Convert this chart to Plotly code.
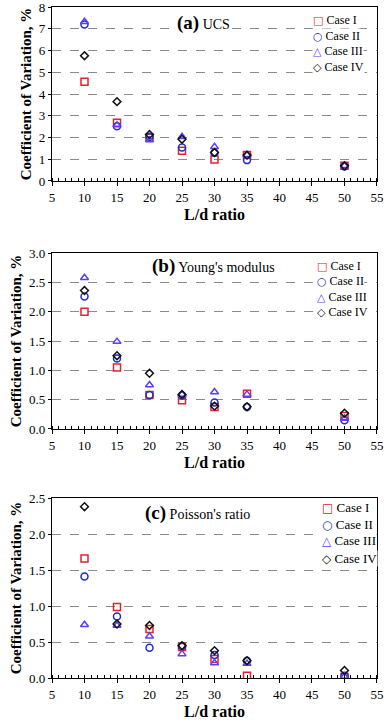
import plotly.graph_objects as go

ld = [10, 15, 20, 25, 30, 35, 50]
case_names = ["Case I", "Case II", "Case III", "Case IV"]

ucs_case1 = [4.56, 2.68, 1.99, 1.39, 0.99, 1.20, 0.70]
ucs_case2 = [7.20, 2.52, 2.03, 1.54, 1.30, 0.96, 0.67]
ucs_case3 = [7.32, 2.57, 1.88, 2.03, 1.57, 1.19, 0.70]
ucs_case4 = [5.76, 3.65, 2.14, 1.92, 1.31, 1.19, 0.70]

ym_case1 = [2.00, 1.05, 0.58, 0.49, 0.375, 0.60, 0.22]
ym_case2 = [2.26, 1.20, 0.58, 0.57, 0.45, 0.375, 0.15]
ym_case3 = [2.58, 1.49, 0.75, 0.59, 0.63, 0.59, 0.18]
ym_case4 = [2.36, 1.25, 0.95, 0.59, 0.39, 0.38, 0.27]

pr_case1 = [1.66, 0.985, 0.68, 0.43, 0.265, 0.03, 0.015]
pr_case2 = [1.41, 0.855, 0.42, 0.44, 0.32, 0.24, 0.03]
pr_case3 = [0.74, 0.73, 0.58, 0.335, 0.21, 0.20, 0.02]
pr_case4 = [2.38, 0.75, 0.73, 0.45, 0.38, 0.24, 0.105]

panels = [
    dict(data=[ucs_case1, ucs_case2, ucs_case3, ucs_case4], yr=[0, 8.002], dt=1, fmt="d",
         dom=[0.7407, 1.0], label="(a)", name="UCS", lx=23.9, ly=7.26,
         legx=0.800, legy=[0.9806, 0.9575, 0.9344, 0.9113], lfs=12),
    dict(data=[ym_case1, ym_case2, ym_case3, ym_case4], yr=[0, 3.001], dt=0.5, fmt=".1f",
         dom=[0.3711, 0.6334], label="(b)", name="Young's modulus", lx=20.1, ly=2.78,
         legx=0.812, legy=[0.6140, 0.5911, 0.5683, 0.5454], lfs=12),
    dict(data=[pr_case1, pr_case2, pr_case3, pr_case4], yr=[0, 2.501], dt=0.5, fmt=".1f",
         dom=[0.0, 0.2683], label="(c)", name="Poisson's ratio", lx=19.0, ly=2.29,
         legx=0.828, legy=[0.2548, 0.2295, 0.2042, 0.1788], lfs=13),
]

symbols = ["square-open", "circle-open", "triangle-up-open", "diamond-open"]
glyphs = ["\u25A1", "\u25CB", "\u25B3", "\u25C7"]
colors = ["#e3222b", "#1c2fc8", "#5b3dff", "#111111"]
sizes = [7, 7, 7, 6]

fig = go.Figure()
serif = "Liberation Serif, Times New Roman, serif"

for i, p in enumerate(panels):
    n = "" if i == 0 else str(i + 1)
    for j in range(4):
        fig.add_trace(go.Scatter(
            x=ld, y=p["data"][j], mode="markers", name=case_names[j],
            xaxis="x" + n, yaxis="y" + n, showlegend=False,
            marker=dict(symbol=symbols[j], color=colors[j], size=sizes[j],
                        line=dict(width=1.5, color=colors[j])),
        ))
        # legend entry row
        fig.add_annotation(x=p["legx"], y=p["legy"][j], xref="paper", yref="paper",
                           xanchor="left", yanchor="middle", showarrow=False,
                           bgcolor="white", borderpad=0,
                           text="<span style='font-family:DejaVu Sans;font-size:" + str(p["lfs"] - 1)
                                + "px;color:" + colors[j]
                                + "'><b>" + glyphs[j] + "</b></span> " + case_names[j],
                           font=dict(family=serif, size=p["lfs"], color="black"))
    xa = dict(domain=[0, 1], range=[5, 55.001], dtick=5, anchor="y" + n, automargin=False,
              showline=True, linecolor="black", linewidth=1.3, mirror=True,
              ticks="outside", ticklen=4, tickcolor="black",
              minor=dict(dtick=1, ticks="inside", ticklen=3, tickcolor="black"),
              showgrid=False, zeroline=False, ticklabeloverflow="allow",
              tickfont=dict(family=serif, size=13, color="black"),
              title=dict(text="<b>L/d ratio</b>", font=dict(family=serif, size=16, color="black"),
                         standoff=5))
    ya = dict(domain=p["dom"], range=p["yr"], dtick=p["dt"], tickformat=p["fmt"],
              anchor="x" + n, automargin=False, ticklabeloverflow="allow",
              showline=True, linecolor="black", linewidth=1.3, mirror=True,
              ticks="outside", ticklen=3, tickcolor="black",
              showgrid=True, gridcolor="#8a8a8a", griddash="dash", gridwidth=1,
              zeroline=False,
              tickfont=dict(family=serif, size=13, color="black"),
              title=dict(text="<b>Coefficient of Variation, %</b>",
                         font=dict(family=serif, size=15, color="black"), standoff=3))
    fig.update_layout(**{"xaxis" + n: xa, "yaxis" + n: ya})
    fig.add_annotation(x=p["lx"], y=p["ly"], xref="x" + n, yref="y" + n,
                       xanchor="left", yanchor="middle", showarrow=False,
                       bgcolor="white",
                       text="<b><span style='font-size:19px'>" + p["label"] + "</span></b> " + p["name"],
                       font=dict(family=serif, size=14, color="black"))

fig.update_layout(width=388, height=722, paper_bgcolor="white", plot_bgcolor="white",
                  margin=dict(l=52, r=11, t=7, b=44), showlegend=False)

fig.write_html("out.html", config={"displayModeBar": False},
               post_script="document.body.style.margin='0';document.body.style.overflow='hidden';")
